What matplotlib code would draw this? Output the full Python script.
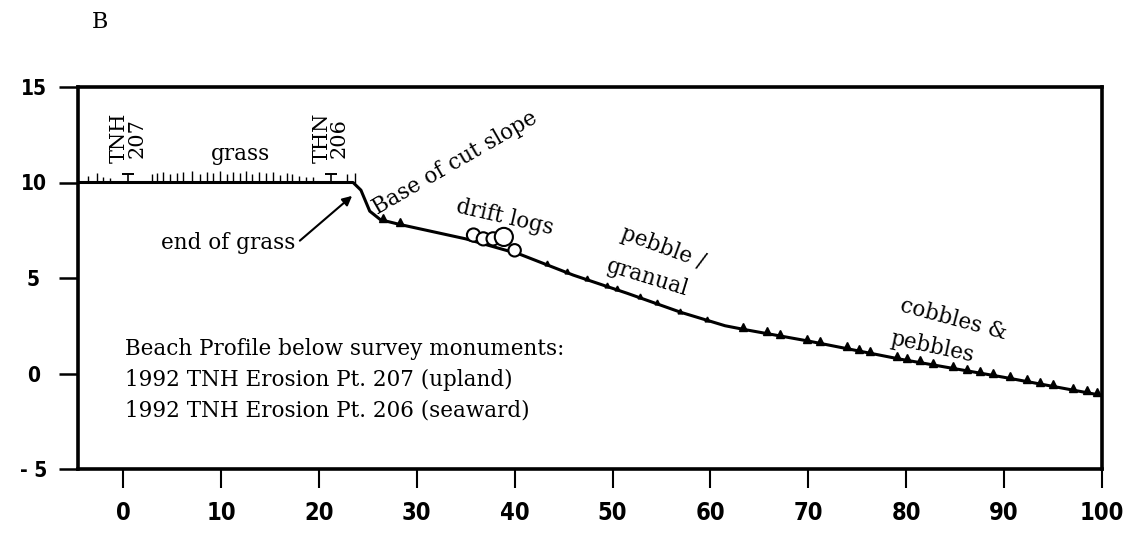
import matplotlib
matplotlib.use("Agg")
import matplotlib.pyplot as plt
import numpy as np

# ---- data ----
profile_x = [-4.6, 23.5, 24.3, 25.2, 26.3, 28.3, 35.0, 40.5, 46.0, 51.5, 57.0, 61.5, 63.5, 70.0, 79.4, 90.0, 100.0]
profile_y = [10.0, 10.0, 9.6, 8.5, 8.05, 7.8, 7.05, 6.25, 5.15, 4.2, 3.2, 2.5, 2.3, 1.7, 0.75, -0.2, -1.15]

grass_x = [-3.6, -2.7, -2.0, -1.3, 3.0, 3.5, 4.1, 4.8, 5.5, 6.1, 7.0, 7.9, 8.6, 9.2, 9.9,
           10.6, 11.2, 11.9, 12.6, 13.2, 13.9, 14.6, 15.3, 16.0, 16.7, 17.3, 18.0, 18.7, 19.4, 22.9, 23.7]
grass_h = [0.35, 0.5, 0.3, 0.25, 0.45, 0.5, 0.55, 0.45, 0.5, 0.55, 0.6, 0.45, 0.55, 0.5, 0.6,
           0.45, 0.55, 0.5, 0.6, 0.45, 0.55, 0.5, 0.55, 0.4, 0.5, 0.45, 0.35, 0.3, 0.3, 0.45, 0.5]

monument_x = [0.5, 21.2]
monument_labels = ["TNH\n207", "THN\n206"]

log_x = [35.8, 36.8, 37.8, 38.9, 40.0]
log_y = [7.25, 7.05, 7.05, 7.15, 6.45]
log_size = [90, 90, 90, 170, 80]

cobble_x = [26.6, 28.3, 63.3, 65.8, 67.1, 69.9, 71.2, 74.0, 75.2, 76.3, 79.1, 80.1, 81.4, 82.7,
            84.8, 86.2, 87.5, 88.9, 90.6, 92.3, 93.7, 95.0, 97.0, 98.5, 99.5]
pebble_x = [43.3, 45.4, 47.4, 49.4, 50.5, 52.8, 54.5, 56.9, 59.7]

x_ticks = [0, 10, 20, 30, 40, 50, 60, 70, 80, 90, 100]
y_ticks = [-5, 0, 5, 10, 15]

notes = ["Beach Profile below survey monuments:",
         "1992 TNH Erosion Pt. 207 (upland)",
         "1992 TNH Erosion Pt. 206 (seaward)"]

SERIF = ["DejaVu Serif", "Liberation Serif"]
NARROW = ["DejaVu Sans"]

fig = plt.figure(figsize=(11.28, 5.36), dpi=100)
ax = fig.add_axes([78 / 1128, 67 / 536, 1024 / 1128, 382 / 536])
ax.set_xlim(-4.6, 100)
ax.set_ylim(-5, 15)

ax.plot(profile_x, profile_y, color="black", lw=2.2, solid_capstyle="round", zorder=3)

ax.vlines(grass_x, 10, np.array(grass_h) + 10, color="black", lw=1.0, zorder=3)
ax.vlines(monument_x, 10, 10.45, color="black", lw=1.2, zorder=3)
ax.plot(monument_x, [10.45] * len(monument_x), ls="none", marker="_", ms=8, mew=1.4, color="black", zorder=3)

ax.plot(cobble_x, np.interp(cobble_x, profile_x, profile_y) + 0.12, ls="none", marker="^",
        ms=5.5, color="black", zorder=3)
ax.plot(pebble_x, np.interp(pebble_x, profile_x, profile_y) + 0.08, ls="none", marker="^",
        ms=3.5, color="black", zorder=3)

ax.scatter(log_x, log_y, s=log_size, facecolor="white", edgecolor="black", linewidth=1.5, zorder=4)

FS = 15.5
for mx, lab in zip(monument_x, monument_labels):
    ax.text(mx, 12.35, lab, rotation=90, ha="center", va="center", fontsize=15,
            family=SERIF, linespacing=0.9)
ax.text(12.0, 11.5, "grass", ha="center", va="center", fontsize=FS, family=SERIF)
ax.annotate("end of grass", xy=(23.4, 9.3), xytext=(10.7, 6.85), ha="center", va="center",
            fontsize=FS, family=SERIF,
            arrowprops=dict(arrowstyle="-|>", color="black", lw=1.5, shrinkA=2, shrinkB=0,
                            mutation_scale=14, relpos=(1.0, 0.4)))
ax.text(33.9, 11.05, "Base of cut slope", rotation=30, ha="center", va="center", fontsize=FS, family=SERIF)
ax.text(39.0, 8.17, "drift logs", rotation=-13, ha="center", va="center", fontsize=FS, family=SERIF)
ax.text(55.2, 6.6, "pebble /", rotation=-20, ha="center", va="center", fontsize=FS, family=SERIF)
ax.text(53.6, 5.0, "granual", rotation=-17, ha="center", va="center", fontsize=FS, family=SERIF)
ax.text(84.8, 2.83, "cobbles &", rotation=-15, ha="center", va="center", fontsize=FS, family=SERIF)
ax.text(82.7, 1.36, "pebbles", rotation=-12, ha="center", va="center", fontsize=FS, family=SERIF)

for i, line in enumerate(notes):
    ax.text(0.2, 1.26 - 1.6 * i, line, ha="left", va="center", fontsize=FS, family=SERIF)

fig.text(100 / 1128, 1 - 22 / 536, "B", ha="center", va="center", fontsize=16, family=SERIF)

for s in ax.spines.values():
    s.set_linewidth(2.6)
ax.set_xticks(x_ticks)
ax.set_yticks(y_ticks)
ax.set_xticklabels([str(v) for v in x_ticks], family=NARROW, fontweight="bold", fontsize=17,
                   fontstretch="condensed")
ax.set_yticklabels([str(v) if v >= 0 else "- 5" for v in y_ticks], family=NARROW, fontweight="bold",
                   fontsize=15, fontstretch="condensed")
ax.tick_params(axis="x", direction="out", length=14, width=1.5, pad=9)
ax.tick_params(axis="y", direction="out", length=14, width=1.8, pad=18)
for lab in ax.get_yticklabels():
    lab.set_horizontalalignment("center")

fig.savefig("out.png", dpi=100)
